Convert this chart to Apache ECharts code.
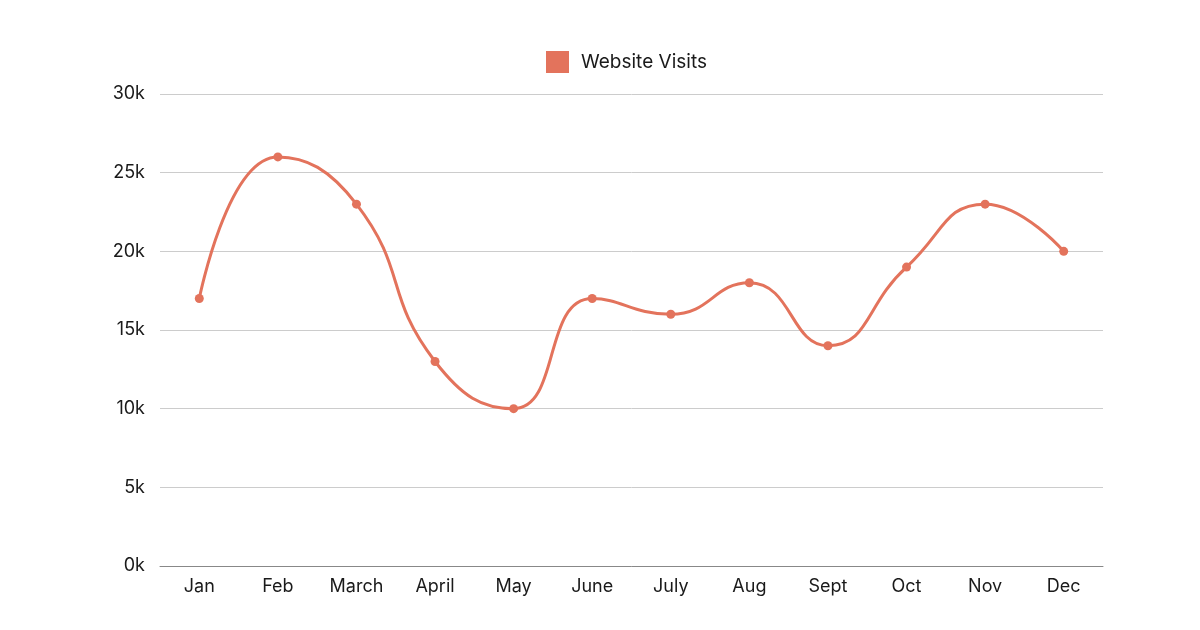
<!DOCTYPE html>
<html>
<head>
<meta charset="utf-8">
<script src="https://cdn.jsdelivr.net/npm/echarts@6/dist/echarts.min.js"></script>
<style>
  html, body { margin: 0; padding: 0; background: #fff; }
  #chart { width: 1200px; height: 630px; }
</style>
</head>
<body>
<div id="chart"></div>
<script>
var months = ['Jan', 'Feb', 'March', 'April', 'May', 'June', 'July', 'Aug', 'Sept', 'Oct', 'Nov', 'Dec'];
var visits = [17000, 26000, 23000, 13000, 10000, 17000, 16000, 18000, 14000, 19000, 23000, 20000];
var lineColor = '#e3735c';

var myChart = echarts.init(document.getElementById('chart'));

var option = {
    backgroundColor: '#ffffff',
    textStyle: { fontFamily: 'Inter, "Open Sans", sans-serif' },
    legend: {
        top: 46,
        left: 541,
        itemWidth: 23,
        itemHeight: 22,
        icon: 'rect',
        textStyle: { fontSize: 19, color: '#1a1a1a', padding: [0, 0, 0, 7] },
        data: [{ name: 'Website Visits', itemStyle: { color: lineColor, borderWidth: 0 } }]
    },
    grid: {
        left: 160,
        right: 97,
        top: 94,
        bottom: 64
    },
    xAxis: {
        type: 'category',
        data: months,
        boundaryGap: true,
        axisTick: { show: false },
        axisLine: { lineStyle: { color: '#888', width: 1 } },
        axisLabel: { fontSize: 18, color: '#1a1a1a', margin: 12 }
    },
    yAxis: {
        type: 'value',
        min: 0,
        max: 30000,
        interval: 5000,
        axisLine: { show: false },
        axisTick: { show: false },
        splitLine: { lineStyle: { color: '#cccccc', width: 1 } },
        axisLabel: {
            fontSize: 18,
            color: '#1a1a1a',
            margin: 15,
            formatter: function (v) { return (v / 1000) + 'k'; }
        }
    },
    series: [
        {
            name: 'Website Visits',
            type: 'line',
            data: visits,
            smooth: 0.5,
            symbol: 'circle',
            symbolSize: 9,
            lineStyle: { color: lineColor, width: 3 },
            itemStyle: { color: lineColor }
        }
    ]
};
myChart.setOption(option);
</script>
</body>
</html>
